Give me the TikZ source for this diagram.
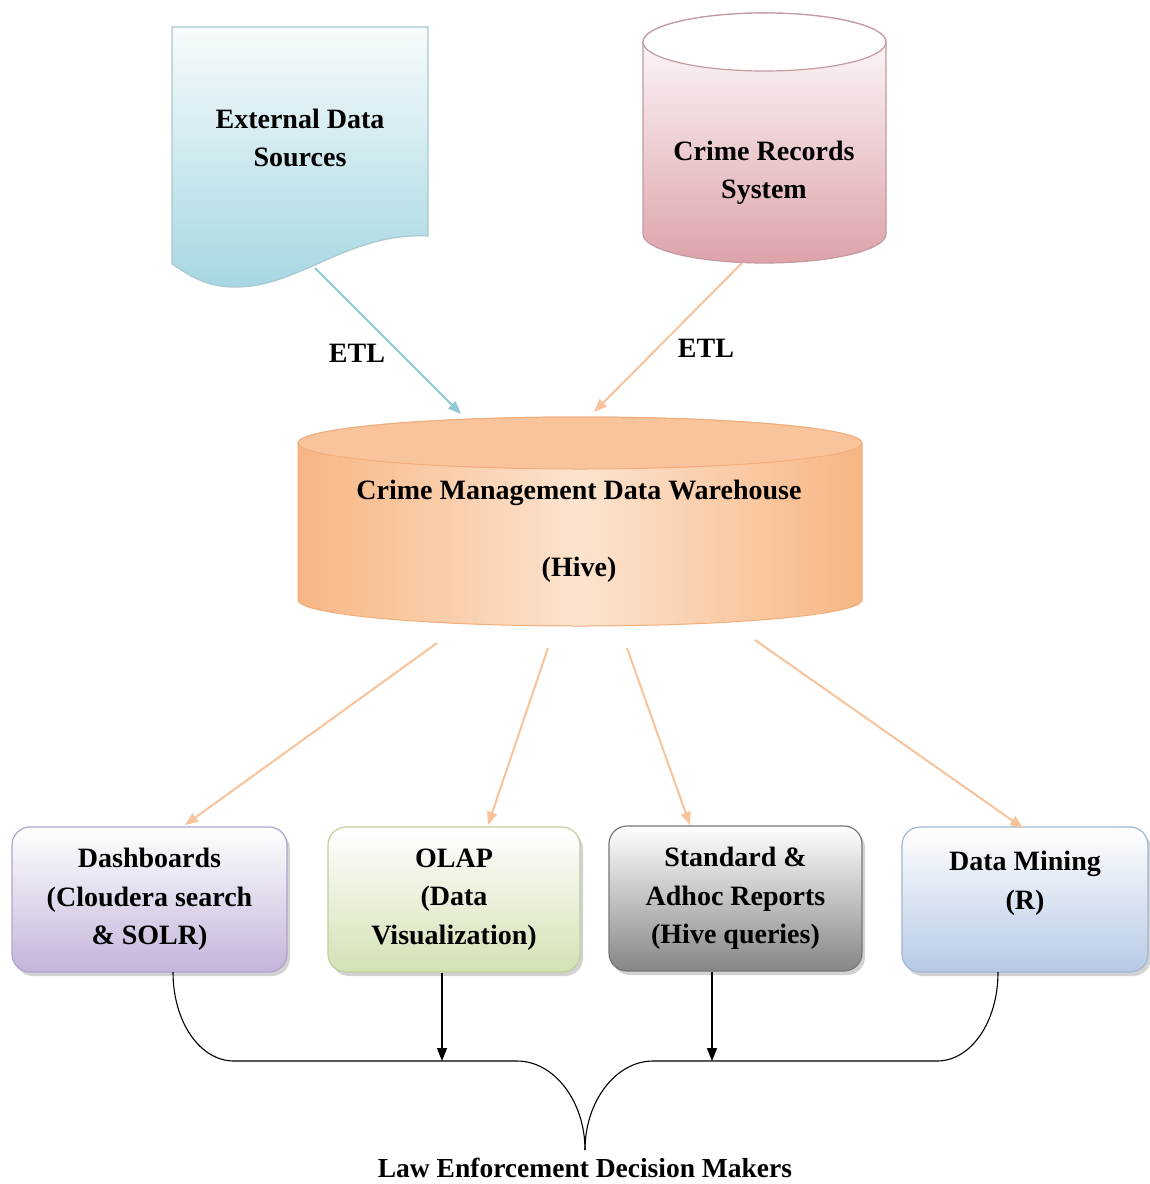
\documentclass[tikz,border=0pt]{standalone}
\usepackage{fontspec}
\setmainfont{Liberation Serif}
\usetikzlibrary{arrows.meta,shadows}
\definecolor{docTop}{HTML}{F7FBFC}
\definecolor{docBot}{HTML}{A6D7E2}
\definecolor{docLine}{HTML}{A9C8D0}
\definecolor{crBot}{HTML}{DDA3AA}
\definecolor{crLine}{HTML}{C39AA0}
\definecolor{dwSide}{HTML}{F7B684}
\definecolor{dwMid}{HTML}{FCE3CE}
\definecolor{dwTop}{HTML}{F9C49C}
\definecolor{dwLine}{HTML}{F1AE7C}
\definecolor{arBlue}{HTML}{8DC8D9}
\definecolor{arOrange}{HTML}{F8C29A}
\definecolor{dashBot}{HTML}{C4B4DA}
\definecolor{dashLine}{HTML}{B3A3CA}
\definecolor{olapBot}{HTML}{D3E2B5}
\definecolor{olapLine}{HTML}{BFD09E}
\definecolor{stdBot}{HTML}{868686}
\definecolor{stdLine}{HTML}{777777}
\definecolor{dmBot}{HTML}{B6CAE5}
\definecolor{dmLine}{HTML}{A2B6D2}
\tikzset{
  lbl/.style={font=\fontsize{28}{38.5}\selectfont\bfseries, align=center, inner sep=0pt},
  box/.style={rounded corners=18pt, minimum width=#1, minimum height=145pt, line width=1.2pt,
    lbl, drop shadow={shadow xshift=3pt, shadow yshift=-4pt, opacity=0.35}},
  flow/.style={line width=2pt, -{Triangle[length=13pt,width=10pt]}},
  feed/.style={line width=1.1pt, black},
  feedarrow/.style={feed, -{Triangle[length=13pt,width=10pt]}}
}
\begin{document}
\begin{tikzpicture}[x=1pt,y=-1pt]
\useasboundingbox (0,0) rectangle (1150,1184);
\fill[white] (0,0) rectangle (1150,1184);

% external data sources (document shape)
\path[top color=docTop, bottom color=docBot, draw=docLine, line width=1.2pt]
  (172,27) -- (428,27) -- (428,236)
  .. controls (350,232) and (300,286) .. (238,287)
  .. controls (205,288) and (188,274) .. (172,264) -- cycle;
\node[lbl] (ext) at (300,138) {External Data\\Sources};

% crime records system (cylinder)
\path[top color=white, bottom color=crBot, draw=crLine, line width=1.2pt]
  (643,42) -- (643,234)
  arc[start angle=180, end angle=360, x radius=121.5pt, y radius=29pt]
  -- (886,42)
  arc[start angle=0, end angle=180, x radius=121.5pt, y radius=29pt] -- cycle;
\path[fill=white, draw=crLine, line width=1.2pt] (764.5,42) ellipse[x radius=121.5pt, y radius=29pt];
\node[lbl] (crs) at (764,173) {Crime Records\\System};

% data warehouse (cylinder)
\path[left color=dwSide, right color=dwSide, middle color=dwMid, draw=dwLine, line width=1pt]
  (298,443) -- (298,600)
  arc[start angle=180, end angle=360, x radius=282pt, y radius=26pt]
  -- (862,443)
  arc[start angle=0, end angle=180, x radius=282pt, y radius=26pt] -- cycle;
\path[fill=dwTop, draw=dwLine, line width=1pt] (580,443) ellipse[x radius=282pt, y radius=26pt];
\node[lbl] (dw) at (579,531) {Crime Management Data Warehouse\\[38.5pt](Hive)};

% ETL
\node[lbl] (etl1) at (357,353) {ETL};
\node[lbl] (etl2) at (706,348) {ETL};
\coordinate (extOut) at (315,268);
\coordinate (crsOut) at (742,263);
\coordinate (dwInL) at (461,414);
\coordinate (dwInR) at (594,412);
\draw[flow, arBlue] (extOut) -- (dwInL);
\draw[flow, arOrange] (crsOut) -- (dwInR);

% output boxes
\node[box=275pt, top color=white, bottom color=dashBot, draw=dashLine] (dash) at (149.5,899.5)
  {Dashboards\\(Cloudera search\\\&\ SOLR)};
\node[box=252pt, top color=white, bottom color=olapBot, draw=olapLine] (olap) at (454,899.5)
  {OLAP\\(Data\\Visualization)};
\node[box=253pt, top color=white, bottom color=stdBot, draw=stdLine] (std) at (735.5,898.5)
  {Standard \&\\Adhoc Reports\\(Hive queries)};
\node[box=246pt, top color=white, bottom color=dmBot, draw=dmLine] (dm) at (1025,899.5)
  {Data Mining\\(R)\\\phantom{X}};

\coordinate (dwO1) at (437,643);
\coordinate (dwO2) at (548,648);
\coordinate (dwO3) at (627,648);
\coordinate (dwO4) at (755,640);
\coordinate (in1) at (185,825);
\coordinate (in2) at (488,825);
\coordinate (in3) at (690,825);
\coordinate (in4) at (1023,828);
\draw[flow, arOrange] (dwO1) -- (in1);
\draw[flow, arOrange] (dwO2) -- (in2);
\draw[flow, arOrange] (dwO3) -- (in3);
\draw[flow, arOrange] (dwO4) -- (in4);

% bottom brace
\node[font=\fontsize{27.5}{30}\selectfont\bfseries, inner sep=0pt] (law) at (585,1168) {Law Enforcement Decision Makers};
\coordinate (tip) at (585,1150);
\coordinate (dashOut) at (173,972);
\coordinate (dmOut) at (998,972);
\draw[feed] (dashOut) .. controls (173,1022) and (200,1061) .. (234,1061)
  -- (517,1061) .. controls (554,1061) and (585,1101) .. (tip);
\draw[feed] (dmOut) .. controls (998,1022) and (971,1061) .. (937,1061)
  -- (653,1061) .. controls (616,1061) and (585,1101) .. (tip);
\draw[feedarrow] (olap.south -| 442,0) -- (442,1061);
\draw[feedarrow] (std.south -| 712,0) -- (712,1061);
\end{tikzpicture}
\end{document}
